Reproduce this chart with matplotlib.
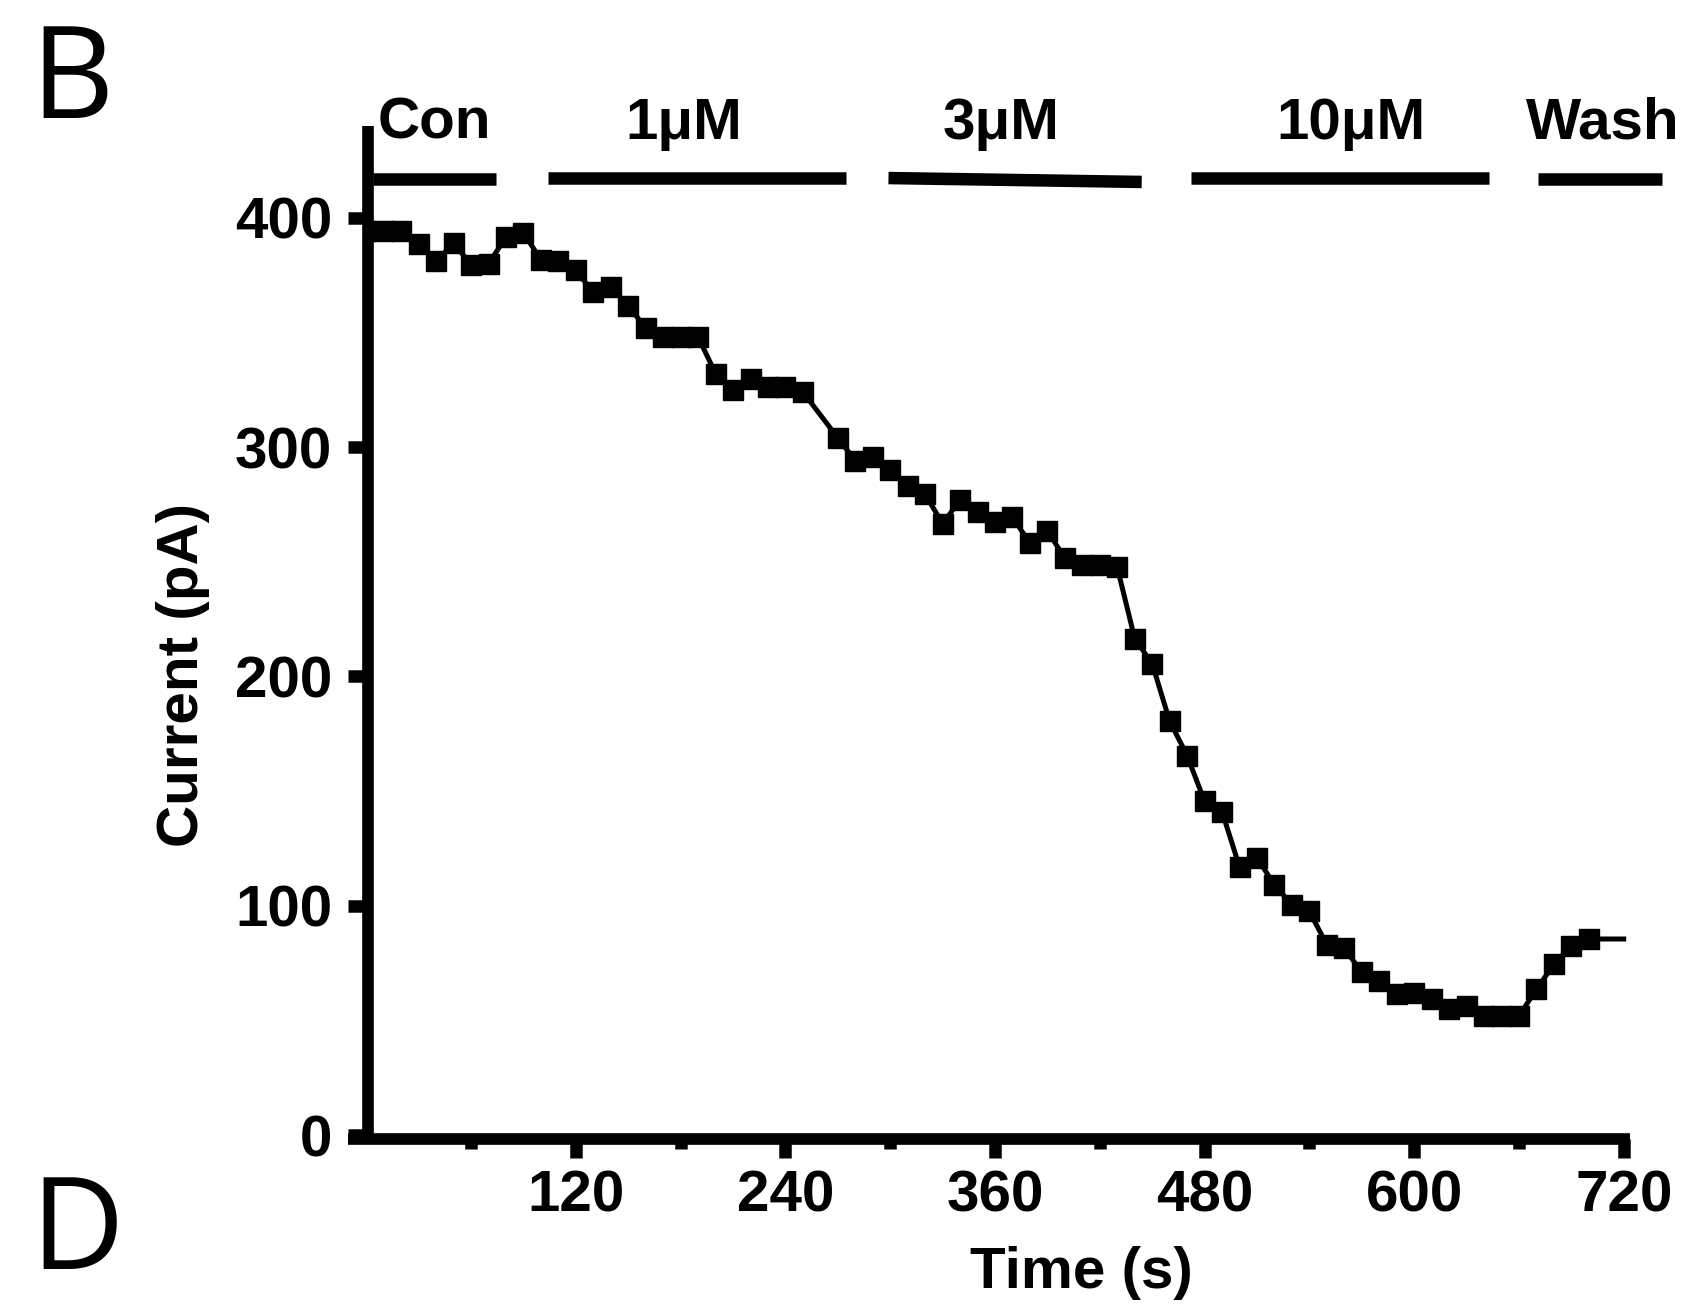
import matplotlib
matplotlib.use('Agg')
import matplotlib.pyplot as plt
from matplotlib.patches import Rectangle
from matplotlib.ticker import FixedLocator

# time (s) and current (pA); no sample at 260 s
times = [0, 10, 20, 30, 40, 50, 60, 70, 80, 90, 100, 110, 120, 130, 140, 150,
         160, 170, 180, 190, 200, 210, 220, 230, 240, 250, 270, 280, 290, 300,
         310, 320, 330, 340, 350, 360, 370, 380, 390, 400, 410, 420, 430, 440,
         450, 460, 470, 480, 490, 500, 510, 520, 530, 540, 550, 560, 570, 580,
         590, 600, 610, 620, 630, 640, 650, 660, 670, 680, 690, 700, 720]
current = [394, 394, 394, 388.5, 381, 389, 379.5, 380, 391.5, 393.5, 381.5, 381,
           377, 367.5, 370, 361.5, 352, 348, 348, 348, 332, 325, 329.5, 326, 326,
           324, 304, 294, 295.5, 290, 283, 279.5, 266.5, 277, 271.5, 267.5, 269.5,
           258, 263.5, 251.5, 248.5, 248.5, 247.5, 216.5, 205.5, 180.5, 165.5,
           145.5, 141, 117, 121, 109, 100.5, 97.5, 83, 81.5, 71, 67, 61.5, 62,
           59.5, 55, 56.5, 52, 52, 52, 63.5, 74.5, 82.5, 85.5, 85.5]

# drug application bars
bar_labels = ['Con', '1μM', '3μM', '10μM', 'Wash']
bar_start = [4, 104, 299, 472, 671]
bar_end = [74.5, 274.5, 444, 643, 742]
bar_y0 = [417, 417.5, 417.3, 417.5, 417]
bar_y1 = [417, 417.5, 415.6, 417.5, 417]
label_x = [39, 182, 363.5, 564, 708]
label_y = 434.5

x_major = [120, 240, 360, 480, 600, 720]
x_minor = [60, 180, 300, 420, 540, 660]
y_major = [0, 100, 200, 300, 400]

bold = dict(family=['Liberation Sans', 'DejaVu Sans'], weight='bold', size=42)

fig = plt.figure(figsize=(16.9, 13.11), dpi=100)
ax = fig.add_axes([0.2059, 0.1312, 0.7586, 0.7727])

trace, = ax.plot(times, current, color='black', lw=3.6, marker='s', ms=14.9,
                 markevery=slice(0, len(times) - 1), zorder=3)
# trace is cut at the y axis, free to run past the right end
trace.set_clip_path(Rectangle((1, -50), 800, 600, transform=ax.transData))

for s, e, y0, y1 in zip(bar_start, bar_end, bar_y0, bar_y1):
    ax.plot([s, e], [y0, y1], color='black', lw=9, solid_capstyle='butt', clip_on=False)
for lab, x in zip(bar_labels, label_x):
    ax.text(x, label_y, lab, ha='center', va='baseline', clip_on=False, **bold)

ax.set_xlim(-10.5, 723.6)
ax.set_ylim(-1.7, 440)
ax.spines['top'].set_visible(False)
ax.spines['right'].set_visible(False)
ax.spines['left'].set_position(('data', 1))
for sp in ['left', 'bottom']:
    ax.spines[sp].set_linewidth(8.4)
    ax.spines[sp].set_capstyle('butt')

ax.xaxis.set_major_locator(FixedLocator(x_major))
ax.xaxis.set_minor_locator(FixedLocator(x_minor))
ax.set_yticks(y_major)
ax.tick_params(axis='x', which='major', length=13.9, width=9, pad=8)
ax.tick_params(axis='x', which='minor', length=7.4, width=9)
ax.tick_params(axis='y', which='major', length=14.2, width=9, pad=11.7)
for lab in ax.get_xticklabels() + ax.get_yticklabels():
    lab.set_fontproperties(matplotlib.font_manager.FontProperties(
        family='Liberation Sans', weight='bold', size=42))

fig.text(0.1083, 0.4855, 'Current (pA)', rotation=90, ha='center', va='center', **bold)
fig.text(0.64, 0.029, 'Time (s)', ha='center', va='center', **bold)

panel = dict(family=['Open Sans', 'DejaVu Sans'], size=93)
fig.text(0.018, 0.9098, 'B', ha='left', va='baseline', **panel)
fig.text(0.018, 0.032, 'D', ha='left', va='baseline', **panel)

fig.savefig('out.png', dpi=100)
